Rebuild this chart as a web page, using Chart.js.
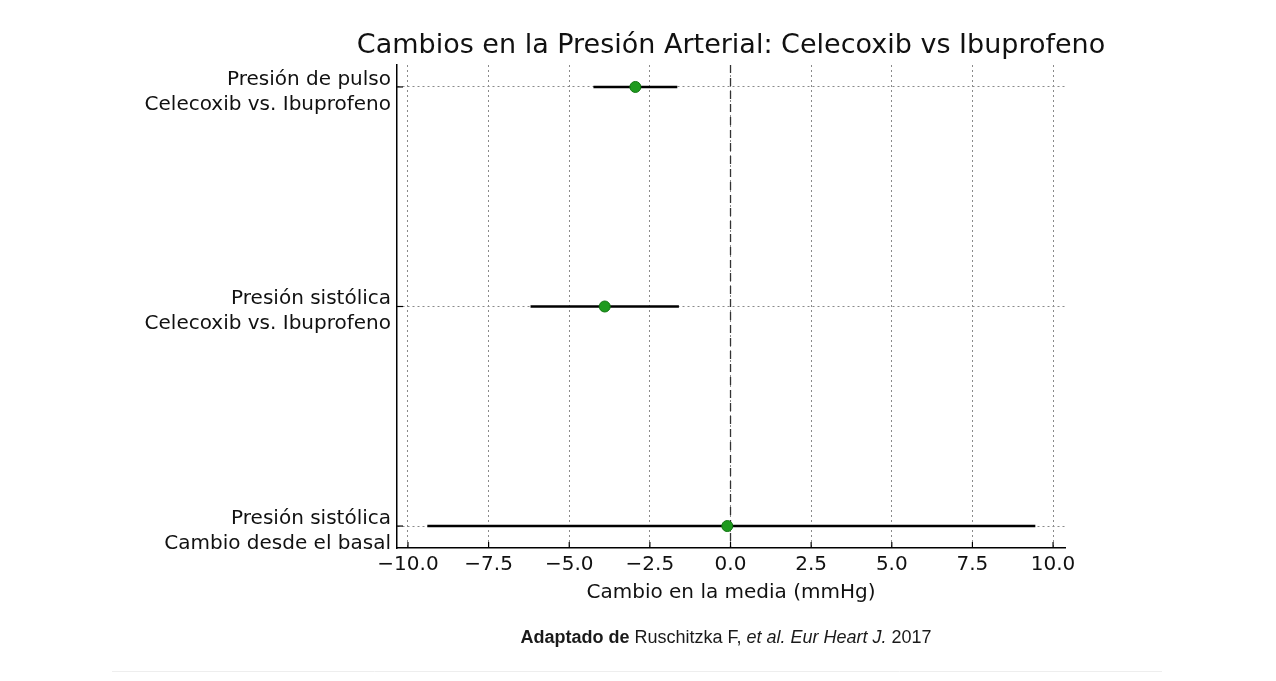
<!DOCTYPE html>
<html><head><meta charset="utf-8">
<script src="https://cdn.jsdelivr.net/npm/chart.js@4.4.0/dist/chart.umd.min.js"></script>
<style>html,body{margin:0;padding:0;background:#fff;overflow:hidden}canvas{display:block}</style>
</head><body>
<canvas id="c" width="1276" height="681"></canvas>
<script>
const chartTitle = 'Cambios en la Presión Arterial: Celecoxib vs Ibuprofeno';
const categories = [
  ['Presión de pulso', 'Celecoxib vs. Ibuprofeno'],
  ['Presión sistólica', 'Celecoxib vs. Ibuprofeno'],
  ['Presión sistólica', 'Cambio desde el basal']
];
const meanChange = [-2.95, -3.9, -0.1];
const ciLower = [-4.25, -6.2, -9.4];
const ciUpper = [-1.65, -1.6, 9.45];
const xTicks = [-10, -7.5, -5, -2.5, 0, 2.5, 5, 7.5, 10];
const xAxisTitle = 'Cambio en la media (mmHg)';
const referenceValue = 0;
const footerParts = [
  { text: 'Adaptado de ', style: 'bold' },
  { text: 'Ruschitzka F, ', style: 'normal' },
  { text: 'et al. Eur Heart J.', style: 'italic' },
  { text: ' 2017', style: 'normal' }
];

const FONT = "'DejaVu Sans', sans-serif";
const rowIdx = categories.map((c, i) => i);

const datasets = [];
datasets.push({
  type: 'scatter',
  label: 'Media',
  data: meanChange.map((v, i) => ({ x: v, y: rowIdx[i] })),
  backgroundColor: '#1e9a1e',
  borderColor: '#127512',
  borderWidth: 1,
  pointRadius: 5.5,
  order: 0
});
rowIdx.forEach(i => {
  datasets.push({
    type: 'line',
    label: 'IC ' + i,
    data: [{ x: ciLower[i], y: i }, { x: ciUpper[i], y: i }],
    borderColor: '#000',
    borderWidth: 2.5,
    pointRadius: 0,
    order: 1
  });
});
datasets.push({
  type: 'line',
  label: 'Referencia',
  data: [{ x: referenceValue, y: -0.1 }, { x: referenceValue, y: 2.1 }],
  borderColor: '#333',
  borderWidth: 1.3,
  borderDash: [8, 5],
  pointRadius: 0,
  order: 2
});

const extras = {
  id: 'extras',
  afterDraw(chart) {
    const ctx = chart.ctx;
    const a = chart.chartArea;
    const xs = chart.scales.x, ys = chart.scales.y;
    ctx.save();
    // inward ticks
    ctx.strokeStyle = '#000';
    ctx.lineWidth = 1.2;
    xs.ticks.forEach(t => {
      const px = xs.getPixelForValue(t.value);
      ctx.beginPath(); ctx.moveTo(px, a.bottom); ctx.lineTo(px, a.bottom - 6); ctx.stroke();
    });
    ys.ticks.forEach(t => {
      const py = ys.getPixelForValue(t.value);
      ctx.beginPath(); ctx.moveTo(a.left, py); ctx.lineTo(a.left + 6, py); ctx.stroke();
    });
    // title
    ctx.fillStyle = '#111';
    ctx.font = '27px ' + FONT;
    ctx.textAlign = 'center';
    ctx.textBaseline = 'middle';
    ctx.fillText(chartTitle, (a.left + a.right) / 2, 46);
    // footer
    const fontFor = s => (s === 'bold' ? 'bold ' : s === 'italic' ? 'italic ' : '') + "18px 'Liberation Sans', sans-serif";
    let total = 0;
    footerParts.forEach(p => { ctx.font = fontFor(p.style); total += ctx.measureText(p.text).width; });
    let x = 726 - total / 2;
    ctx.textAlign = 'left';
    ctx.fillStyle = '#1a1a1a';
    footerParts.forEach(p => {
      ctx.font = fontFor(p.style);
      ctx.fillText(p.text, x, 638);
      x += ctx.measureText(p.text).width;
    });
    // faint separator
    ctx.strokeStyle = '#eeeeee';
    ctx.lineWidth = 1;
    ctx.beginPath(); ctx.moveTo(112, 671.5); ctx.lineTo(1162, 671.5); ctx.stroke();
    ctx.restore();
  }
};

new Chart(document.getElementById('c'), {
  data: { datasets },
  options: {
    responsive: false,
    animation: false,
    layout: { padding: { top: 65, right: 211, left: 0, bottom: 0 } },
    plugins: { legend: { display: false }, tooltip: { enabled: false }, title: { display: false } },
    scales: {
      x: {
        type: 'linear',
        position: 'bottom',
        min: -10.34,
        max: 10.37,
        afterBuildTicks: s => { s.ticks = xTicks.map(v => ({ value: v })); },
        afterFit: s => { s.height = 133; },
        ticks: {
          padding: 5,
          color: '#111',
          font: { family: FONT, size: 20 },
          callback: v => (v < 0 ? '\u2212' : '') + Math.abs(v).toFixed(1)
        },
        grid: { color: '#8a8a8a', lineWidth: 1, drawTicks: false },
        border: { display: true, color: '#000', width: 1.5, dash: [2, 3] },
        title: {
          display: true,
          text: xAxisTitle,
          color: '#111',
          font: { family: FONT, size: 20 },
          padding: { top: 0, bottom: 76 }
        }
      },
      y: {
        type: 'linear',
        position: 'left',
        min: -0.1,
        max: 2.1,
        reverse: true,
        afterBuildTicks: s => { s.ticks = rowIdx.map(v => ({ value: v })); },
        afterFit: s => { s.width = 397; },
        ticks: {
          padding: 6,
          labelOffset: 5,
          color: '#111',
          font: { family: FONT, size: 20, lineHeight: 1.25 },
          callback: v => categories[v]
        },
        grid: { color: '#8a8a8a', lineWidth: 1, drawTicks: false },
        border: { display: true, color: '#000', width: 1.5, dash: [2, 3] }
      }
    }
  },
  plugins: [extras]
});
</script>
</body></html>
